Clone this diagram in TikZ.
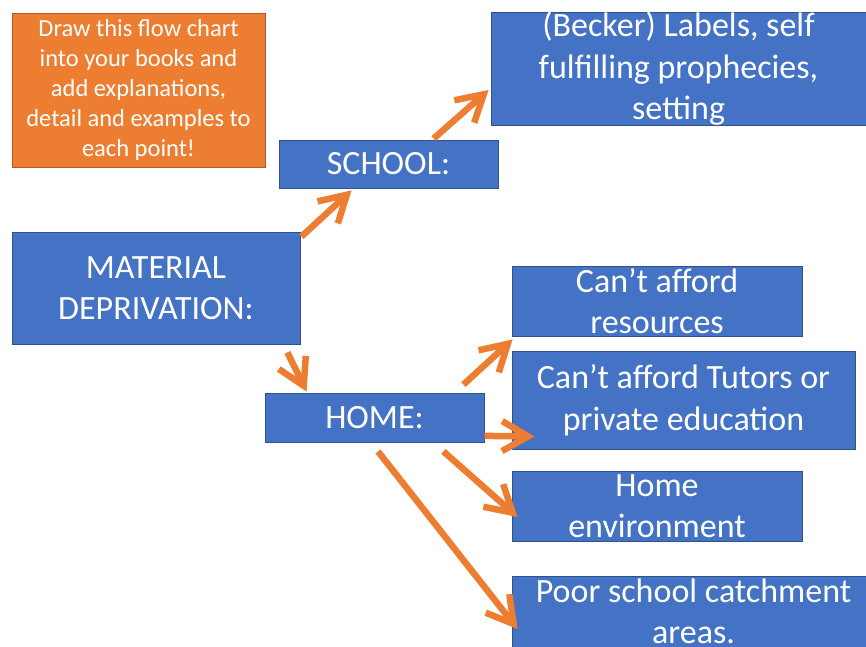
\documentclass[tikz,border=0pt]{standalone}
\usepackage{fontspec}
\setmainfont{Carlito}
\usetikzlibrary{arrows.meta,calc}
\definecolor{boxblue}{HTML}{4472C4}
\definecolor{boxblueedge}{HTML}{2F528F}
\definecolor{noteorange}{HTML}{ED7D31}
\definecolor{noteedge}{HTML}{AE5A21}
\begin{document}
\begin{tikzpicture}[x=1pt,y=-1pt,
  bluebox/.style={rectangle, draw=boxblueedge, fill=boxblue, line width=0.8pt, inner sep=0pt},
  notebox/.style={rectangle, draw=noteedge, fill=noteorange, line width=0.8pt, inner sep=0pt},
  dims/.style 2 args={minimum width=#1pt, minimum height=#2pt},
  bigtext/.style={text=white, align=center, inner sep=0pt, font=\fontsize{34}{41.5}\selectfont},
  smalltext/.style={text=white, align=center, inner sep=0pt, font=\fontsize{24.5}{30}\selectfont},
  flow/.style={draw=noteorange, line width=6.5pt, -{Straight Barb[length=26pt, width=30pt]}}]

\useasboundingbox (0,0) rectangle (866,646);

% boxes
\node[notebox, dims={253}{154}] (note) at (138.5,90) {};
\node[bluebox, dims={375}{113}] (becker) at (678.5,68.5) {};
\node[bluebox, dims={219}{48}] (school) at (388.5,164) {};
\node[bluebox, dims={288}{112}] (md) at (156,288) {};
\node[bluebox, dims={219}{49}] (home) at (374.5,417.5) {};
\node[bluebox, dims={290}{70}] (res) at (657,301) {};
\node[bluebox, dims={343}{98}] (tut) at (683.5,400) {};
\node[bluebox, dims={290}{70}] (env) at (657,506) {};
\node[bluebox, dims={363}{71}] (poor) at (693.5,611.5) {};

% texts
\node[smalltext] (note-t) at (note.center) {Draw this flow chart\\into your books and\\add explanations,\\detail and examples to\\each point!};
\node[bigtext] (becker-t) at (becker.center) {(Becker) Labels, self\\fulfilling prophecies,\\setting};
\node[bigtext] (school-t) at (school.center) {SCHOOL:};
\node[bigtext] (md-t) at (md.center) {MATERIAL\\DEPRIVATION:};
\node[bigtext] (home-t) at (home.center) {HOME:};
\node[bigtext] (res-t) at (res.center) {Can’t afford\\resources};
\node[bigtext] (tut-t) at (tut.center) {Can’t afford Tutors or\\private education};
\node[bigtext] (env-t) at (env.center) {Home\\environment};
\node[bigtext] (poor-t) at (poor.center) {Poor school catchment\\areas.};

% connectors
\draw[flow] ($(md.north east)+(1,5)$) -- ($(school.south west)+(73,2)$);
\draw[flow] ($(school.north west)+(155,-1)$) -- ($(becker.west)+(-2,21.5)$);
\draw[flow] ($(md.south east)+(-13,8)$) -- ($(home.north west)+(42,-1)$);
\draw[flow] ($(home.north east)+(-21,-8)$) -- ($(res.south west)+(1,3)$);
\draw[flow] ($(home.south east)+(0,-6.5)$) -- ($(tut.south west)+(23,-13)$);
\draw[flow] ($(home.south east)+(-41,9)$) -- ($(env.west)+(6,11)$);
\draw[flow] ($(home.south)+(3.5,9)$) -- ($(poor.west)+(6,17.5)$);
\end{tikzpicture}
\end{document}
